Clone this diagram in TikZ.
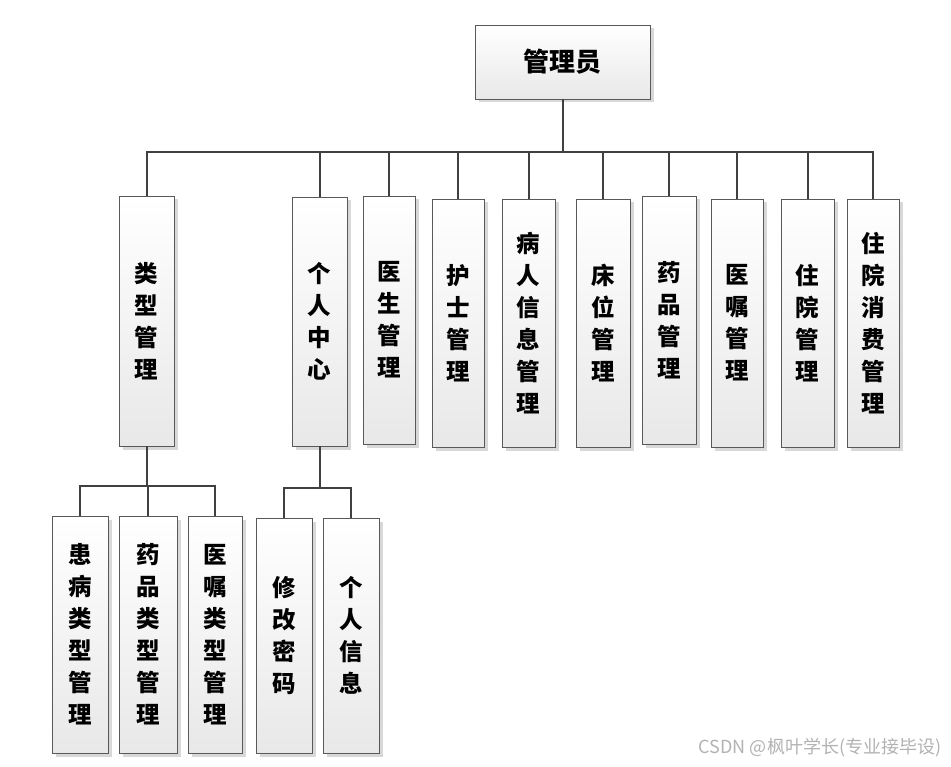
\documentclass[tikz,border=0pt]{standalone}
\usepackage{fontspec}
\setmainfont{Noto Sans CJK SC}
\usetikzlibrary{shadows}
\tikzset{
  box/.style={draw=black!65, line width=0.9pt, top color=white, bottom color=black!9,
    drop shadow={shadow xshift=3.5pt, shadow yshift=-3.5pt, fill=black!22, opacity=0.7},
    align=center, inner sep=0pt, font=\fontsize{23.5}{32}\selectfont\bfseries},
  line/.style={draw=black!75, line width=2pt}
}
\begin{document}
\begin{tikzpicture}[x=1pt,y=-1pt]
		\useasboundingbox (0,0) rectangle (951,767);
		% root
		\node (mgr) at (562.5,62) [box, minimum width=175pt, minimum height=74pt, font=\fontsize{26}{30}\selectfont\bfseries] {管理员};
		
		% first level
		\node (lx) at (146.5,321) [box, minimum width=55pt, minimum height=250pt] {类\\型\\管\\理};
		\node (gr) at (319.5,321.5) [box, minimum width=55pt, minimum height=249pt] {个\\人\\中\\心};
		\node (ys) at (389,320) [box, minimum width=52pt, minimum height=248pt] {医\\生\\管\\理};
		\node (hs) at (458,323) [box, minimum width=52pt, minimum height=248pt] {护\\士\\管\\理};
		\node (br) at (528.5,323) [box, minimum width=53pt, minimum height=248pt] {病\\人\\信\\息\\管\\理};
		\node (cw) at (603,323) [box, minimum width=54pt, minimum height=248pt] {床\\位\\管\\理};
		\node (yp) at (669,320) [box, minimum width=54pt, minimum height=248pt] {药\\品\\管\\理};
		\node (yz) at (737,323) [box, minimum width=52pt, minimum height=248pt] {医\\嘱\\管\\理};
		\node (zy) at (807.5,323) [box, minimum width=53pt, minimum height=248pt] {住\\院\\管\\理};
		\node (zyxf) at (873,323) [box, minimum width=52pt, minimum height=248pt] {住\\院\\消\\费\\管\\理};
		
		% second level
		\node (hb) at (80,634.5) [box, minimum width=56pt, minimum height=237pt] {患\\病\\类\\型\\管\\理};
		\node (ypl) at (148,634.5) [box, minimum width=58pt, minimum height=237pt] {药\\品\\类\\型\\管\\理};
		\node (yzl) at (215,634.5) [box, minimum width=54pt, minimum height=237pt] {医\\嘱\\类\\型\\管\\理};
		\node (xg) at (284,635.5) [box, minimum width=56pt, minimum height=235pt] {修\\改\\密\\码};
		\node (grxx) at (351,635.5) [box, minimum width=56pt, minimum height=235pt] {个\\人\\信\\息};
		
		\coordinate (bus) at (0,152);
		\coordinate (bus1) at (0,486);
		\coordinate (bus2) at (0,488);
		
		\foreach \c in {lx,gr,ys,hs,br,cw,yp,yz,zy,zyxf}
			\draw [line] (mgr.south) -- (mgr.south |- bus) -| (\c.north);
		\foreach \c in {hb,ypl,yzl}
			\draw [line] (lx.south) -- (lx.south |- bus1) -| (\c.north);
		\foreach \c in {xg,grxx}
			\draw [line] (gr.south) -- (gr.south |- bus2) -| (\c.north);
		
		\node (wm) at (820,748) [text=black!30, font=\fontsize{18}{20}\selectfont] {CSDN @枫叶学长(专业接毕设)};
		\end{tikzpicture}
\end{document}
